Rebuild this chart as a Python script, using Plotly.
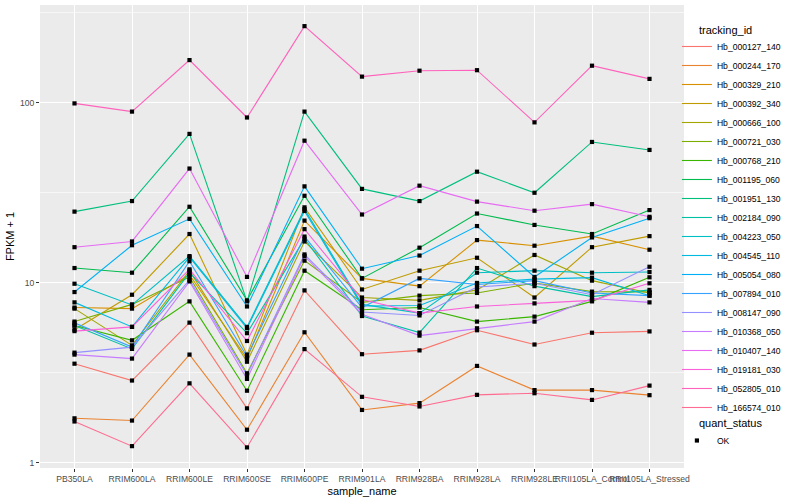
import plotly.graph_objects as go

samples = ["PB350LA", "RRIM600LA", "RRIM600LE", "RRIM600SE", "RRIM600PE", "RRIM901LA",
           "RRIM928BA", "RRIM928LA", "RRIM928LE", "RRII105LA_Control", "RRII105LA_Stressed"]

tracking_ids = ["Hb_000127_140", "Hb_000244_170", "Hb_000329_210", "Hb_000392_340",
                "Hb_000666_100", "Hb_000721_030", "Hb_000768_210", "Hb_001195_060",
                "Hb_001951_130", "Hb_002184_090", "Hb_004223_050", "Hb_004545_110",
                "Hb_005054_080", "Hb_007894_010", "Hb_008147_090", "Hb_010368_050",
                "Hb_010407_140", "Hb_019181_030", "Hb_052805_010", "Hb_166574_010"]

colors = ["#F8766D", "#EA8331", "#D89000", "#C09B00", "#A3A500", "#7CAE00", "#39B600",
          "#00BB4E", "#00BF7D", "#00C1A3", "#00BFC4", "#00BAE0", "#00B0F6", "#35A2FF",
          "#9590FF", "#C77CFF", "#E76BF3", "#FA62DB", "#FF62BC", "#FF6C91"]

# FPKM + 1 values, one list per tracking_id (same order as samples)
Hb_000127_140 = [3.56, 2.87, 6.02, 2.01, 9.09, 4.02, 4.22, 5.46, 4.55, 5.29, 5.38]
Hb_000244_170 = [1.77, 1.72, 4.0, 1.53, 5.32, 1.97, 2.15, 3.46, 2.54, 2.54, 2.38]
Hb_000329_210 = [7.3, 7.2, 11.1, 3.8, 22.2, 10.6, 9.6, 17.3, 16.1, 18.2, 15.3]
Hb_000392_340 = [5.5, 8.6, 18.7, 4.0, 26.3, 9.2, 11.7, 13.8, 8.3, 15.8, 18.2]
Hb_000666_100 = [7.2, 4.5, 11.7, 3.65, 17.0, 8.3, 8.0, 9.15, 14.3, 10.3, 8.8]
Hb_000721_030 = [6.1, 7.6, 10.8, 3.15, 13.3, 7.8, 8.5, 8.8, 10.0, 8.95, 8.9]
Hb_000768_210 = [5.8, 4.8, 7.9, 2.52, 11.7, 7.1, 7.3, 6.1, 6.5, 7.9, 10.75]
Hb_001195_060 = [12.1, 11.4, 26.5, 8.0, 30.5, 10.6, 15.7, 24.3, 21.0, 18.7, 25.4]
Hb_001951_130 = [24.9, 28.5, 67.3, 7.9, 89.5, 33.3, 28.5, 41.5, 31.7, 60.7, 54.8]
Hb_002184_090 = [5.8, 4.3, 11.4, 5.26, 17.6, 6.55, 5.3, 12.1, 9.6, 8.4, 9.15]
Hb_004223_050 = [9.9, 7.55, 14.1, 5.7, 25.7, 7.6, 6.8, 11.4, 11.7, 11.4, 11.5]
Hb_004545_110 = [7.8, 5.7, 13.9, 5.6, 25.1, 7.45, 7.5, 10.0, 10.5, 10.7, 8.5]
Hb_005054_080 = [8.9, 16.2, 22.7, 7.4, 34.4, 12.0, 14.2, 20.7, 10.8, 17.9, 22.9]
Hb_007894_010 = [6.0, 4.4, 13.2, 3.9, 18.1, 7.3, 10.6, 9.8, 10.3, 8.8, 8.5]
Hb_008147_090 = [4.1, 4.4, 10.4, 3.08, 14.4, 6.9, 6.6, 9.5, 9.96, 8.6, 12.3]
Hb_010368_050 = [4.0, 3.8, 10.2, 2.93, 14.1, 6.7, 5.1, 5.6, 6.1, 8.2, 7.8]
Hb_010407_140 = [15.8, 17.0, 43.2, 10.8, 61.7, 24.0, 34.7, 28.3, 25.2, 27.4, 23.3]
Hb_019181_030 = [5.4, 5.7, 11.9, 4.76, 19.9, 8.1, 6.8, 7.4, 7.7, 8.0, 9.96]
Hb_052805_010 = [99.4, 89.5, 173, 83, 267, 140, 151, 152, 78, 161, 136]
Hb_166574_010 = [1.70, 1.24, 2.77, 1.22, 4.29, 2.33, 2.06, 2.39, 2.44, 2.24, 2.69]

series = [Hb_000127_140, Hb_000244_170, Hb_000329_210, Hb_000392_340, Hb_000666_100,
          Hb_000721_030, Hb_000768_210, Hb_001195_060, Hb_001951_130, Hb_002184_090,
          Hb_004223_050, Hb_004545_110, Hb_005054_080, Hb_007894_010, Hb_008147_090,
          Hb_010368_050, Hb_010407_140, Hb_019181_030, Hb_052805_010, Hb_166574_010]

y_ticks = [1, 10, 100]
y_ticktext = ["1", "10", "100"]

FONT = "Liberation Sans, Arial, Helvetica, sans-serif"

fig = go.Figure()
for name, vals, col in zip(tracking_ids, series, colors):
    fig.add_trace(go.Scatter(x=samples, y=vals, mode="lines", name=name,
                             line=dict(color=col, width=1.1), legend="legend"))

all_x = [s for vals in series for s in samples]
all_y = [v for vals in series for v in vals]
fig.add_trace(go.Scatter(x=all_x, y=all_y, mode="markers", name="OK",
                         marker=dict(color="black", size=4.2, symbol="square"),
                         legend="legend2"))

fig.update_layout(
    width=800, height=500,
    margin=dict(l=40, r=116, t=5, b=32, autoexpand=False),
    paper_bgcolor="white", plot_bgcolor="#EBEBEB",
    font=dict(family=FONT, color="#000000"),
    legend=dict(font=dict(size=8.6), x=0.989, y=0.9417, xanchor="left", yanchor="top",
                tracegroupgap=0, itemwidth=30, bgcolor="rgba(0,0,0,0)"),
    legend2=dict(font=dict(size=8.6), x=0.989, y=0.0907, xanchor="left", yanchor="top",
                 bgcolor="rgba(0,0,0,0)"),
    annotations=[
        dict(text="tracking_id", xref="paper", yref="paper", x=1.0202, y=0.946,
             xanchor="left", yanchor="middle", showarrow=False, font=dict(size=11)),
        dict(text="quant_status", xref="paper", yref="paper", x=1.0202, y=0.0972,
             xanchor="left", yanchor="middle", showarrow=False, font=dict(size=11)),
    ],
)

fig.update_xaxes(type="category", categoryorder="array", categoryarray=samples,
                 range=[-0.6, len(samples) - 0.4], automargin=False,
                 tickmode="array", tickvals=samples, ticktext=samples, tickangle=0,
                 showgrid=True, gridcolor="white", gridwidth=1.1,
                 ticks="outside", ticklen=3, tickcolor="#333333",
                 tickfont=dict(size=8.6, color="#4D4D4D"),
                 title=dict(text="sample_name", font=dict(size=11), standoff=3),
                 zeroline=False, showline=False)

fig.update_yaxes(type="log", range=[-0.028, 2.544], automargin=False,
                 tickmode="array", tickvals=y_ticks, ticktext=y_ticktext,
                 showgrid=True, gridcolor="white", gridwidth=1.1,
                 minor=dict(tickvals=[10 ** 0.5, 10 ** 1.5, 10 ** 2.5], showgrid=True,
                            gridcolor="#F7F7F7", gridwidth=0.6, ticks=""),
                 ticks="outside", ticklen=3, tickcolor="#333333",
                 tickfont=dict(size=8.6, color="#4D4D4D"),
                 title=dict(text="FPKM + 1", font=dict(size=11), standoff=3),
                 zeroline=False, showline=False)

fig.write_html("out.html", config={"displayModeBar": False},
               post_script="document.body.style.margin='0px';")
